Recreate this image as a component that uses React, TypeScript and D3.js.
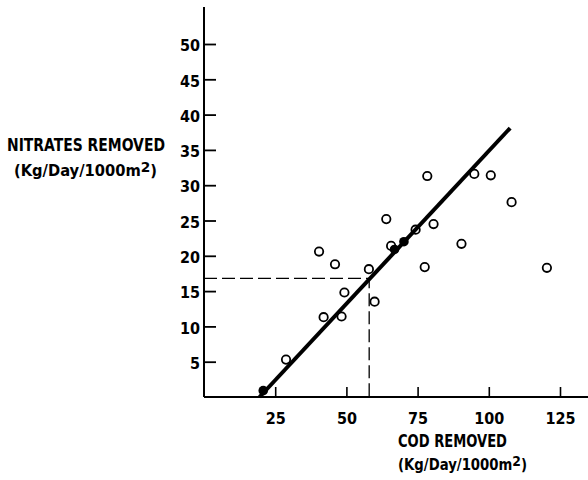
import * as React from "react";
import * as d3 from "d3";

// COD removed vs nitrates removed (Kg/Day/1000m2)
const codOpen = [28.8, 42, 48.3, 49.3, 59.9, 57.9, 46, 40.4, 65.7, 64, 74.3, 80.6, 77.5, 90.4, 78.4, 94.9, 100.7, 108, 120.4];
const nitOpen = [5.3, 11.3, 11.4, 14.8, 13.5, 18.1, 18.8, 20.6, 21.4, 25.2, 23.7, 24.5, 18.4, 21.7, 31.3, 31.6, 31.4, 27.6, 18.3];
const codFilled = [66.9, 70.2, 20.8];
const nitFilled = [20.9, 22.0, 0.9];

// fitted line end points
const fitCod = [19.5, 107.5];
const fitNit = [0, 38.1];

// dashed read-off at COD 58 -> nitrates 17
const readCod = 58;
const readNit = 16.8;

const xTicks = [25, 50, 75, 100, 125];
const yTicks = [5, 10, 15, 20, 25, 30, 35, 40, 45, 50];

const W = 588;
const H = 480;
const FONT = "'Liberation Sans Narrow', 'DejaVu Sans Condensed', 'Arial Narrow', sans-serif";

function UnitLabel(props: { x: number; y: number; width: number }) {
  return (
    <text x={props.x} y={props.y} fontSize={15} textLength={props.width} lengthAdjust="spacingAndGlyphs">
      (Kg/Day/1000m
      <tspan dy={-4} fontSize={14}>2</tspan>
      <tspan dy={4}>)</tspan>
    </text>
  );
}

export default function App() {
  const x = d3.scaleLinear().domain([0, 125]).range([204, 560]);
  const y = d3.scaleLinear().domain([0, 50]).range([397, 44]);

  const yAxisRef = (node: SVGGElement | null) => {
    if (!node) return;
    const g = d3.select(node);
    g.call(d3.axisLeft(y).tickValues(yTicks).tickSizeInner(-12).tickSizeOuter(0).tickPadding(4) as any);
    g.select(".domain").remove();
    g.selectAll(".tick line").attr("stroke", "#000").attr("stroke-width", 1.8);
    g.selectAll(".tick text")
      .attr("font-family", FONT)
      .attr("font-weight", "bold")
      .attr("font-size", 16)
      .attr("fill", "#000")
      .attr("dy", "0.42em");
  };

  const xAxisRef = (node: SVGGElement | null) => {
    if (!node) return;
    const g = d3.select(node);
    g.call(d3.axisBottom(x).tickValues(xTicks).tickSizeInner(-10).tickSizeOuter(0).tickPadding(16) as any);
    g.select(".domain").remove();
    g.selectAll(".tick line").attr("stroke", "#000").attr("stroke-width", 1.6);
    g.selectAll(".tick text")
      .attr("font-family", FONT)
      .attr("font-weight", "bold")
      .attr("font-size", 16)
      .attr("fill", "#000");
  };

  const fitLine = d3
    .line<number>()
    .x((d) => x(fitCod[d]))
    .y((d) => y(fitNit[d]))([0, 1]) as string;

  return (
    <svg width={W} height={H} style={{ position: "absolute", left: 0, top: 0, background: "#fff" }}>
      <rect width={W} height={H} fill="#fff" />

      {/* axes */}
      <line x1={x(0)} x2={x(0)} y1={7} y2={y(0)} stroke="#000" strokeWidth={2} />
      <line x1={x(0)} x2={W} y1={y(0)} y2={y(0)} stroke="#000" strokeWidth={2} />
      <g ref={yAxisRef} transform={`translate(${x(0)},0)`} />
      <g ref={xAxisRef} transform={`translate(0,${y(0)})`} />

      {/* dashed read-off lines */}
      <path
        d={`M${x(0)},${y(readNit)}H${x(readCod)}V${y(0)}`}
        fill="none"
        stroke="#000"
        strokeWidth={1.3}
        strokeDasharray="13,5"
      />

      {/* points */}
      {codOpen.map((c, i) => (
        <circle key={"o" + i} cx={x(c)} cy={y(nitOpen[i])} r={4.2} fill="#fff" stroke="#000" strokeWidth={1.8} />
      ))}

      {/* fitted line */}
      <path d={fitLine} fill="none" stroke="#000" strokeWidth={4} />

      {codFilled.map((c, i) => (
        <circle key={"f" + i} cx={x(c)} cy={y(nitFilled[i])} r={4.8} fill="#000" />
      ))}

      {/* axis titles */}
      <g fontFamily={FONT} fontWeight="bold" fill="#000">
        <text x={7} y={151} fontSize={17} textLength={158} lengthAdjust="spacingAndGlyphs">
          NITRATES REMOVED
        </text>
        <UnitLabel x={14} y={176} width={143} />
        <text x={398} y={447} fontSize={17} textLength={109} lengthAdjust="spacingAndGlyphs">
          COD REMOVED
        </text>
        <UnitLabel x={398} y={470} width={129} />
      </g>
    </svg>
  );
}
